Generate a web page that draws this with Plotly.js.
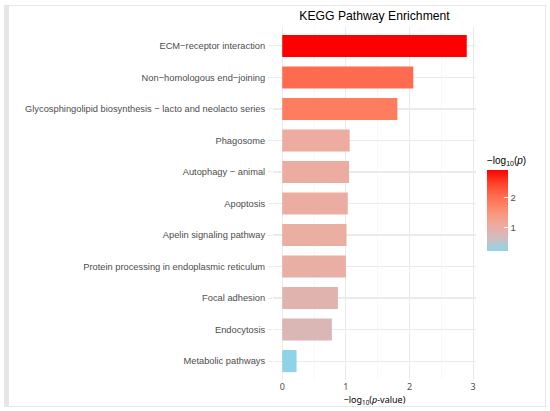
<!DOCTYPE html>
<html><head><meta charset="utf-8">
<script src="https://cdn.plot.ly/plotly-3.0.1.min.js"></script>
<style>
html,body{margin:0;padding:0;background:#fff;}
#wrap{position:relative;width:550px;height:411px;}
#frame{position:absolute;left:4px;top:5px;width:536px;height:400px;border-top:1px solid #e6e6e6;border-right:1px solid #e6e6e6;border-bottom:1px solid #e6e6e6;border-left:5px solid #e6e6e6;pointer-events:none;}
#chart{position:absolute;left:0;top:0;width:550px;height:411px;}
</style></head>
<body><div id="wrap"><div id="chart"></div><div id="frame"></div></div>
<script>
const pathways = [
  "ECM\u2212receptor interaction",
  "Non\u2212homologous end\u2212joining",
  "Glycosphingolipid biosynthesis \u2212 lacto and neolacto series",
  "Phagosome",
  "Autophagy \u2212 animal",
  "Apoptosis",
  "Apelin signaling pathway",
  "Protein processing in endoplasmic reticulum",
  "Focal adhesion",
  "Endocytosis",
  "Metabolic pathways"
];
const negLog10P = [2.90, 2.06, 1.81, 1.06, 1.05, 1.03, 1.01, 1.00, 0.875, 0.78, 0.225];
const xTicks = [0, 1, 2, 3];
const cbarTicks = [1, 2];

// colour stops (skyblue -> salmon -> red)
const scale = [
  [0.00, '#8ed3ea'],
  [0.10, '#b9c6cd'],
  [0.20, '#d9b7b7'],
  [0.25, '#e1b2ab'],
  [0.31, '#edaca0'],
  [0.45, '#f8987f'],
  [0.59, '#ff7d5f'],
  [0.69, '#ff6a4d'],
  [0.85, '#ff3d26'],
  [1.00, '#ff0000']
];

const cmin = Math.min(...negLog10P), cmax = Math.max(...negLog10P);
const labelFont = 'Liberation Sans, Arial, sans-serif';
const trace = {
  type:'bar', orientation:'h', x:negLog10P, y:pathways, width:0.7,
  marker:{color:negLog10P, colorscale:scale, cmin:cmin, cmax:cmax, showscale:true, line:{width:0},
    colorbar:{title:{text:'\u2212log<sub>10</sub>(<i>p</i>)', side:'top', font:{family:labelFont, size:10, color:'#000'}},
      thickness:21, thicknessmode:'pixels', len:98, lenmode:'pixels', x:1.054, xanchor:'left', y:0.504, yanchor:'middle',
      xpad:0, ypad:0, outlinewidth:0, ticks:'inside', ticklen:4, tickcolor:'#fff', tickvals:cbarTicks, ticktext:cbarTicks.map(String),
      tickfont:{family:labelFont, size:9.5, color:'#4d4d4d'}}},
  hoverinfo:'x+y'
};
const layout = {
  width:550, height:411, paper_bgcolor:'#fff', plot_bgcolor:'#fff',
  margin:{l:273, r:74, t:27, b:31, autoexpand:false},
  showlegend:false,
  title:{text:'KEGG Pathway Enrichment', x:0.681, xanchor:'center', y:0.962, yanchor:'middle', font:{family:labelFont, size:12.2, color:'#000'}},
  xaxis:{range:[-0.145,3.045], tickvals:xTicks, showgrid:true, gridcolor:'#ebebeb', gridwidth:1.1, zeroline:false, showline:false, ticks:'',
    minor:{tickvals:[0.5,1.5,2.5], showgrid:true, gridcolor:'#f3f3f3', gridwidth:0.6},
    tickfont:{family:'Noto Sans, sans-serif', size:9, color:'#4d4d4d'},
    title:{text:'\u2212log<sub>10</sub>(<i>p</i>-value)', font:{family:'Noto Sans, sans-serif', size:9, color:'#000'}, standoff:3}},
  yaxis:{type:'category', autorange:false, showgrid:true, gridcolor:'#ebebeb', gridwidth:1.1, zeroline:false, showline:false,
    ticks:'outside', ticklen:4, tickcolor:'#ebebeb', ticklabelstandoff:1,
    tickfont:{family:labelFont, size:9.3, color:'#4d4d4d'}},
  bargap:0.3
};
layout.yaxis.range = [pathways.length-0.4, -0.6];
Plotly.newPlot('chart',[trace],layout,{displayModeBar:false,staticPlot:true});
</script></body></html>
